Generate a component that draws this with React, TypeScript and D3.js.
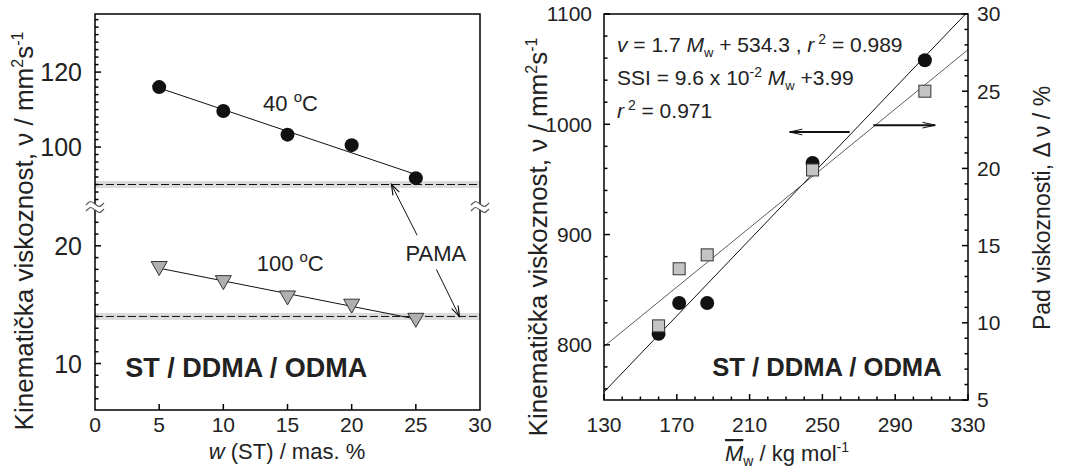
import React from "react";
import * as d3 from "d3";

// ---------- data: left panel ----------
const wST = [5, 10, 15, 20, 25];
const visc40 = [116.0, 109.6, 103.3, 100.5, 91.7];
const visc100 = [18.2, 17.0, 15.7, 15.0, 13.8];
const pama40 = 90;
const pama100 = 14.0;
const xTicksL = [0, 5, 10, 15, 20, 25, 30];
const yTicksUpper = [100, 120];
const yTicksLower = [10, 20];

// ---------- data: right panel ----------
const mwVals = [160, 171.3, 186.7, 244.6, 306.3];
const viscMw = [810, 838, 838, 965, 1058];
const ssiVals = [9.8, 13.5, 14.4, 19.9, 25.0];
const xTicksR = [130, 170, 210, 250, 290, 330];
const yTicksRL = [800, 900, 1000, 1100];
const yTicksRR = [5, 10, 15, 20, 25, 30];

const FONT = "Arial, 'Liberation Sans', Helvetica, sans-serif";

function linFit(xs: number[], ys: number[]) {
  const mx = d3.mean(xs) as number;
  const my = d3.mean(ys) as number;
  const sxy = d3.sum(xs, (x, i) => (x - mx) * (ys[i] - my));
  const sxx = d3.sum(xs, (x) => (x - mx) ** 2);
  const b = sxy / sxx;
  return { a: my - b * mx, b };
}

function arrowHead(x1: number, y1: number, x2: number, y2: number, len = 11, ang = 0.33) {
  const t = Math.atan2(y1 - y2, x1 - x2);
  const p1 = [x2 + len * Math.cos(t + ang), y2 + len * Math.sin(t + ang)];
  const p2 = [x2 + len * Math.cos(t - ang), y2 + len * Math.sin(t - ang)];
  return `M${p1[0]},${p1[1]}L${x2},${y2}L${p2[0]},${p2[1]}`;
}

function squiggle(cx: number, cy: number) {
  const w = 9;
  const a = 3.5;
  const row = (y: number) =>
    `M${cx - w},${y + 1} C${cx - w / 2},${y - a} ${cx - w / 2},${y - a} ${cx},${y} S${cx + w / 2},${y + a} ${cx + w},${y - 1}`;
  return row(cy - 3) + " " + row(cy + 3);
}

const TickFont = 21;
const TickFontLY = 25;

export default function App() {
  // ---------- left panel scales ----------
  const Lx0 = 95, Lx1 = 480, Ltop = 14, Lbot = 410, Lbrk = 207;
  const xL = d3.scaleLinear().domain([0, 30]).range([Lx0, Lx1]);
  const yUp = d3.scaleLinear().domain([84, 135.5]).range([Lbrk, Ltop]);
  const yLo = d3.scaleLinear().domain([6.05, 23.3]).range([Lbot, Lbrk]);

  const fit40 = linFit(wST, visc40);
  const fit100 = linFit(wST, visc100);
  const xFitL = [wST[0], wST[wST.length - 1]];

  const minorUp = d3.range(86, 136, 2).filter((v) => !yTicksUpper.includes(v) && yUp(v) < Lbrk - 5 && yUp(v) > Ltop + 2);
  const minorLo = d3.range(7, 24, 1).filter((v) => !yTicksLower.includes(v) && yLo(v) > Lbrk + 6 && yLo(v) < Lbot - 2);

  // ---------- right panel scales ----------
  const Rx0 = 604, Rx1 = 968, Rtop = 14, Rbot = 400;
  const xR = d3.scaleLinear().domain([130, 330]).range([Rx0, Rx1]);
  const yRL = d3.scaleLinear().domain([750, 1100]).range([Rbot, Rtop]);
  const yRR = d3.scaleLinear().domain([5, 30]).range([Rbot, Rtop]);

  const fitV = linFit(mwVals, viscMw);
  const fitS = linFit(mwVals, ssiVals);
  const xDom = xR.domain();

  const minorRX = d3.range(140, 330, 10).filter((v) => !xTicksR.includes(v));
  const minorRL = d3.range(760, 1100, 20).filter((v) => !yTicksRL.includes(v));
  const minorRR = d3.range(6, 30, 1).filter((v) => !yTicksRR.includes(v));

  const tri = "M-8,-5.5 L8,-5.5 L0,8.5 Z";

  // arrows (in data coordinates)
  const a1 = { x1: xL(25.1), y1: yLo(20.9), x2: xL(23.1), y2: yUp(pama40) };
  const a2 = { x1: xL(26.6), y1: yLo(18.0), x2: xL(28.4), y2: yLo(pama100) };
  const ra1 = { x1: xR(265), y1: yRL(993), x2: xR(232), y2: yRL(993) };
  const ra2 = { x1: xR(278), y1: yRR(22.8), x2: xR(312), y2: yRR(22.8) };

  return (
    <svg
      width={1074}
      height={473}
      style={{ position: "absolute", left: 0, top: 0, background: "#fff" }}
      fontFamily={FONT}
    >
      <defs>
        <clipPath id="clipR">
          <rect x={Rx0} y={Rtop} width={Rx1 - Rx0} height={Rbot - Rtop} />
        </clipPath>
      </defs>

      {/* ================= LEFT PANEL ================= */}
      <rect x={Lx0} y={yUp(pama40) - 3.5} width={Lx1 - Lx0} height={7} fill="#dcdcdc" />
      <rect x={Lx0} y={yLo(pama100) - 3.5} width={Lx1 - Lx0} height={7} fill="#dcdcdc" />
      <line x1={Lx0} x2={Lx1} y1={yUp(pama40)} y2={yUp(pama40)} stroke="#111" strokeWidth={1} strokeDasharray="8,3" />
      <line x1={Lx0} x2={Lx1} y1={yLo(pama100)} y2={yLo(pama100)} stroke="#111" strokeWidth={1} strokeDasharray="8,3" />

      <rect x={Lx0} y={Ltop} width={Lx1 - Lx0} height={Lbot - Ltop} fill="none" stroke="#000" strokeWidth={1.5} />

      {/* break marks */}
      <rect x={Lx0 - 1} y={Lbrk - 3} width={2} height={6} fill="#fff" />
      <rect x={Lx1 - 1} y={Lbrk - 3} width={2} height={6} fill="#fff" />
      <path d={squiggle(Lx0, Lbrk)} fill="none" stroke="#555" strokeWidth={1.2} />
      <path d={squiggle(Lx1, Lbrk)} fill="none" stroke="#555" strokeWidth={1.2} />

      {yTicksUpper.map((v) => (
        <g key={"yu" + v}>
          <line x1={Lx0} x2={Lx0 + 6} y1={yUp(v)} y2={yUp(v)} stroke="#000" strokeWidth={1.5} />
          <text x={Lx0 - 13} y={yUp(v)} dy="0.36em" textAnchor="end" fontSize={TickFontLY} fill="#222">{v}</text>
        </g>
      ))}
      {minorUp.map((v) => (
        <line key={"ymu" + v} x1={Lx0} x2={Lx0 + 3.5} y1={yUp(v)} y2={yUp(v)} stroke="#000" strokeWidth={1.5} />
      ))}
      {yTicksLower.map((v) => (
        <g key={"yl" + v}>
          <line x1={Lx0} x2={Lx0 + 6} y1={yLo(v)} y2={yLo(v)} stroke="#000" strokeWidth={1.5} />
          <text x={Lx0 - 13} y={yLo(v)} dy="0.36em" textAnchor="end" fontSize={TickFontLY} fill="#222">{v}</text>
        </g>
      ))}
      {minorLo.map((v) => (
        <line key={"yml" + v} x1={Lx0} x2={Lx0 + 3.5} y1={yLo(v)} y2={yLo(v)} stroke="#000" strokeWidth={1.5} />
      ))}

      {xTicksL.map((v) => (
        <g key={"xl" + v}>
          {v > 0 && v < 30 && (
            <line x1={xL(v)} x2={xL(v)} y1={Lbot} y2={Lbot - 6} stroke="#000" strokeWidth={1.5} />
          )}
          <text x={xL(v)} y={425} dy="0.35em" textAnchor="middle" fontSize={TickFont} fill="#222">{v}</text>
        </g>
      ))}

      <line x1={xL(xFitL[0])} x2={xL(xFitL[1])} y1={yUp(fit40.a + fit40.b * xFitL[0])} y2={yUp(fit40.a + fit40.b * xFitL[1])} stroke="#111" strokeWidth={1} />
      <line x1={xL(xFitL[0])} x2={xL(xFitL[1])} y1={yLo(fit100.a + fit100.b * xFitL[0])} y2={yLo(fit100.a + fit100.b * xFitL[1])} stroke="#111" strokeWidth={1} />

      {wST.map((w, i) => (
        <circle key={"c40" + i} cx={xL(w)} cy={yUp(visc40[i])} r={7} fill="#111" />
      ))}
      {wST.map((w, i) => (
        <path key={"t100" + i} d={tri} transform={`translate(${xL(w)},${yLo(visc100[i])})`} fill="#b0b0b0" stroke="#333" strokeWidth={1} />
      ))}

      <text x={xL(13.1)} y={111} fontSize={22} fill="#222">40 <tspan dy={-9} fontSize={15}>o</tspan><tspan dy={9}>C</tspan></text>
      <text x={xL(12.6)} y={271} fontSize={22} fill="#222">100 <tspan dy={-9} fontSize={15}>o</tspan><tspan dy={9}>C</tspan></text>
      <text x={xL(24.2)} y={261} fontSize={22} fill="#222">PAMA</text>
      <line x1={a1.x1} y1={a1.y1} x2={a1.x2} y2={a1.y2} stroke="#111" strokeWidth={1} />
      <path d={arrowHead(a1.x1, a1.y1, a1.x2, a1.y2)} fill="none" stroke="#111" strokeWidth={1.2} />
      <line x1={a2.x1} y1={a2.y1} x2={a2.x2} y2={a2.y2} stroke="#111" strokeWidth={1} />
      <path d={arrowHead(a2.x1, a2.y1, a2.x2, a2.y2)} fill="none" stroke="#111" strokeWidth={1.2} />
      <text x={xL(2.35)} y={377} fontSize={27} fontWeight="bold" fill="#222">ST / DDMA / ODMA</text>

      <text transform="translate(33,231) rotate(-90)" textAnchor="middle" fontSize={26} fill="#222">
        Kinematička viskoznost, ν / mm<tspan dy={-10} fontSize={16}>2</tspan><tspan dy={10}>s</tspan><tspan dy={-10} fontSize={16}>-1</tspan>
      </text>
      <text x={287} y={459} textAnchor="middle" fontSize={22} fill="#222">
        <tspan fontStyle="italic">w</tspan> (ST) / mas. %
      </text>

      {/* ================= RIGHT PANEL ================= */}
      <g clipPath="url(#clipR)">
        <line x1={xR(xDom[0])} x2={xR(xDom[1])} y1={yRL(fitV.a + fitV.b * xDom[0])} y2={yRL(fitV.a + fitV.b * xDom[1])} stroke="#111" strokeWidth={1} />
        <line x1={xR(xDom[0])} x2={xR(xDom[1])} y1={yRR(fitS.a + fitS.b * xDom[0])} y2={yRR(fitS.a + fitS.b * xDom[1])} stroke="#333" strokeWidth={0.8} />
      </g>

      <rect x={Rx0} y={Rtop} width={Rx1 - Rx0} height={Rbot - Rtop} fill="none" stroke="#000" strokeWidth={1.5} />

      {yTicksRL.map((v) => (
        <g key={"yrl" + v}>
          <line x1={Rx0} x2={Rx0 + 6} y1={yRL(v)} y2={yRL(v)} stroke="#000" strokeWidth={1.5} />
          <text x={Rx0 - 12} y={yRL(v)} dy="0.35em" textAnchor="end" fontSize={TickFont} fill="#222">{v}</text>
        </g>
      ))}
      {minorRL.map((v) => (
        <line key={"myrl" + v} x1={Rx0} x2={Rx0 + 3.5} y1={yRL(v)} y2={yRL(v)} stroke="#000" strokeWidth={1.5} />
      ))}
      {yTicksRR.map((v) => (
        <g key={"yrr" + v}>
          <line x1={Rx1} x2={Rx1 - 6} y1={yRR(v)} y2={yRR(v)} stroke="#000" strokeWidth={1.5} />
          <text x={Rx1 + 9} y={yRR(v)} dy="0.35em" textAnchor="start" fontSize={TickFont} fill="#222">{v}</text>
        </g>
      ))}
      {minorRR.map((v) => (
        <line key={"myrr" + v} x1={Rx1} x2={Rx1 - 3.5} y1={yRR(v)} y2={yRR(v)} stroke="#000" strokeWidth={1.5} />
      ))}
      {xTicksR.map((v) => (
        <g key={"xr" + v}>
          <line x1={xR(v)} x2={xR(v)} y1={Rbot} y2={Rbot - 6} stroke="#000" strokeWidth={1.5} />
          <text x={xR(v)} y={425} dy="0.35em" textAnchor="middle" fontSize={TickFont} fill="#222">{v}</text>
        </g>
      ))}
      {minorRX.map((v) => (
        <line key={"mxr" + v} x1={xR(v)} x2={xR(v)} y1={Rbot} y2={Rbot - 3.5} stroke="#000" strokeWidth={1.5} />
      ))}

      {mwVals.map((m, i) => (
        <circle key={"cv" + i} cx={xR(m)} cy={yRL(viscMw[i])} r={7} fill="#111" />
      ))}
      {mwVals.map((m, i) => (
        <rect key={"sq" + i} x={xR(m) - 6} y={yRR(ssiVals[i]) - 6} width={12} height={12} fill="#c4c4c4" stroke="#333" strokeWidth={1} />
      ))}

      <line x1={ra1.x1} y1={ra1.y1} x2={ra1.x2} y2={ra1.y2} stroke="#111" strokeWidth={2} />
      <path d={arrowHead(ra1.x1, ra1.y1, ra1.x2, ra1.y2, 13, 0.22)} fill="none" stroke="#111" strokeWidth={1} />
      <line x1={ra2.x1} y1={ra2.y1} x2={ra2.x2} y2={ra2.y2} stroke="#111" strokeWidth={2} />
      <path d={arrowHead(ra2.x1, ra2.y1, ra2.x2, ra2.y2, 13, 0.22)} fill="none" stroke="#111" strokeWidth={1} />

      <text x={617} y={52} fontSize={21} fill="#222">
        <tspan fontStyle="italic">v</tspan> = 1.7 <tspan fontStyle="italic">M</tspan><tspan dy={5} fontSize={13}>w</tspan><tspan dy={-5}> + 534.3 , </tspan><tspan fontStyle="italic">r</tspan><tspan dy={-8} fontSize={14}> 2</tspan><tspan dy={8}> = 0.989</tspan>
      </text>
      <text x={617} y={85} fontSize={21} fill="#222">
        SSI = 9.6 x 10<tspan dy={-8} fontSize={14}>-2</tspan><tspan dy={8}> </tspan><tspan fontStyle="italic">M</tspan><tspan dy={5} fontSize={13}>w</tspan><tspan dy={-5}> +3.99</tspan>
      </text>
      <text x={617} y={118} fontSize={21} fill="#222">
        <tspan fontStyle="italic">r</tspan><tspan dy={-8} fontSize={14}> 2</tspan><tspan dy={8}> = 0.971</tspan>
      </text>

      <text x={xR(189.5)} y={376} fontSize={25.6} fontWeight="bold" fill="#222">ST / DDMA / ODMA</text>

      <text transform="translate(547,237) rotate(-90)" textAnchor="middle" fontSize={26} fill="#222">
        Kinematička viskoznost, ν / mm<tspan dy={-10} fontSize={16}>2</tspan><tspan dy={10}>s</tspan><tspan dy={-10} fontSize={16}>-1</tspan>
      </text>
      <text transform="translate(1050,208) rotate(-90)" textAnchor="middle" fontSize={23} fill="#222">
        Pad viskoznosti, Δ ν / %
      </text>
      <text x={787} y={461} textAnchor="middle" fontSize={22} fill="#222">
        <tspan fontStyle="italic" style={{ textDecoration: "overline" }}>M</tspan><tspan dy={5} fontSize={14}>w</tspan><tspan dy={-5}> / kg mol</tspan><tspan dy={-9} fontSize={14}>-1</tspan>
      </text>
    </svg>
  );
}
